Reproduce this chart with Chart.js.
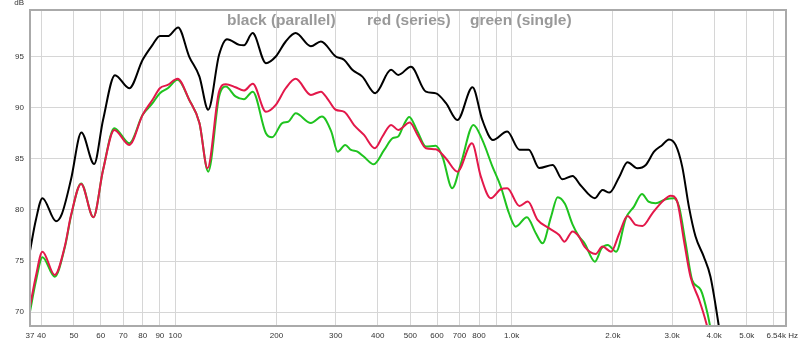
<!DOCTYPE html>
<html>
<head>
<meta charset="utf-8">
<script src="https://cdn.jsdelivr.net/npm/chart.js@4.4.1/dist/chart.umd.min.js"></script>
<style>
  body { margin: 0; background: #ffffff; }
  canvas { display: block; }
</style>
</head>
<body>
<canvas id="fr-chart" width="800" height="342"></canvas>
<script>
// axis ticks (last label is drawn by the plugin, it sits left of its tick)
const xTicks = [37, 40, 50, 60, 70, 80, 90, 100, 200, 300, 400, 500, 600, 700, 800, 900,
  1000, 2000, 3000, 4000, 5000, 6000, 6540];
const xTickLabels = ["37", "40", "50", "60", "70", "80", "90", "100", "200", "300", "400", "500",
  "600", "700", "800", "", "1.0k", "2.0k", "3.0k", "4.0k", "5.0k", "", ""];
const xEndLabel = "6.54k Hz";
const yTicks = [70, 75, 80, 85, 90, 95];

// black (parallel)
const blackFreq = [37, 38.5, 40.3, 44.2, 46, 49, 52.6, 57.4, 61, 66.2, 73, 80, 85.6, 90, 95, 102,
  110, 118, 125.3, 135, 142.5, 155, 160, 169.8, 186, 199, 213, 228, 253, 271, 300, 318, 336,
  360, 393, 438, 460, 502, 556, 596, 638, 690, 765, 818, 880, 970, 1055, 1124, 1208, 1325,
  1415, 1517, 1600, 1768, 1862, 1953, 2090, 2210, 2366, 2505, 2650, 2805, 2935, 3072, 3214,
  3364, 3521, 3725, 3900, 4250];
const blackDb = [76.0, 79.0, 81.15, 78.9, 79.6, 83.0, 87.57, 84.5, 88.8, 93.18, 91.9, 94.68, 96.14,
  97.02, 97.0, 97.84, 95.0, 93.04, 89.8, 95.17, 96.7, 96.14, 96.1, 97.29, 94.35, 95.0, 96.47,
  97.29, 96.0, 96.47, 95.0, 94.67, 93.7, 93.04, 91.42, 93.7, 93.2, 94.0, 91.57, 91.4, 90.44,
  88.8, 92.0, 88.8, 86.85, 87.67, 85.9, 85.9, 84.1, 84.4, 83.0, 83.33, 82.45, 81.15, 81.96,
  81.7, 83.26, 84.67, 84.08, 84.4, 85.7, 86.36, 86.9, 86.36, 84.24, 80.33, 77.4, 75.44, 73.48,
  66.0];

// red (series)
const redFreq = [37, 38.5, 40.3, 43.8, 47, 49, 52.5, 57.1, 61, 65.9, 73, 80, 85.6, 90, 95, 101.6,
  110, 118, 124.7, 135, 141.4, 151, 160, 170, 186, 199, 213, 228, 253, 271, 285, 300, 318, 340,
  364, 392, 413, 438, 460, 498, 525, 556, 595, 637, 690, 762, 810, 867, 928, 970, 1055, 1117,
  1194, 1294, 1384, 1435, 1517, 1586, 1647, 1777, 1862, 1975, 2090, 2210, 2338, 2450, 2620,
  2805, 2970, 3105, 3250, 3402, 3610, 3780, 3950];
const redDb = [70.55, 73.5, 75.93, 73.65, 76.5, 79.5, 82.55, 79.29, 83.9, 87.83, 86.36, 89.3, 90.77,
  91.9, 92.23, 92.82, 90.77, 88.5, 84.08, 91.57, 92.3, 92.0, 91.67, 92.33, 89.6, 90.28, 91.9,
  92.82, 91.25, 91.57, 90.77, 89.8, 89.6, 88.3, 87.34, 86.04, 87.18, 88.32, 87.83, 88.55, 87.34,
  86.04, 85.94, 85.06, 83.75, 86.53, 83.26, 81.15, 82.03, 82.13, 80.4, 80.82, 79.03, 78.2,
  77.56, 76.9, 77.9, 77.4, 76.42, 75.7, 76.42, 75.93, 77.73, 79.42, 78.54, 78.44, 79.68, 80.82,
  81.4, 80.82, 77.07, 73.48, 71.2, 69.08, 66.5];

// green (single)
const greenFreq = [37, 38.5, 40.3, 43.8, 47, 49, 52.5, 57.1, 61, 65.9, 73, 80, 85.6, 90, 95, 101.6,
  110, 118, 125.3, 135, 141.4, 151, 160, 170, 186, 194, 208, 217, 228, 253, 273, 291, 304, 320,
  333, 348, 364, 389, 418, 443, 460, 478, 496, 525, 556, 595, 623, 666, 707, 770, 818, 877, 928,
  982, 1028, 1110, 1180, 1235, 1310, 1370, 1440, 1517, 1586, 1647, 1768, 1852, 1930, 2045, 2185,
  2310, 2440, 2552, 2680, 2870, 3037, 3145, 3290, 3440, 3650, 3820, 4000];
const greenDb = [70.06, 73.0, 75.38, 73.48, 76.4, 79.4, 82.6, 79.3, 83.9, 88.0, 86.53, 89.3, 90.44,
  91.42, 91.9, 92.72, 90.77, 88.5, 83.75, 91.1, 92.06, 91.1, 90.83, 91.57, 87.5, 87.1, 88.5,
  88.64, 89.45, 88.5, 89.13, 87.67, 85.7, 86.36, 85.87, 85.7, 85.2, 84.47, 85.87, 87.02, 87.18,
  88.32, 89.1, 87.67, 86.2, 86.27, 85.2, 82.13, 84.57, 88.32, 86.85, 84.24, 82.3, 79.68, 78.37,
  79.29, 77.73, 76.75, 79.35, 81.25, 80.6, 78.6, 77.4, 76.75, 74.95, 76.26, 76.58, 75.93, 79.19,
  80.33, 81.57, 80.82, 80.66, 81.05, 81.15, 80.33, 76.75, 73.16, 72.18, 69.9, 66.5];

const toPoints = (freq, db) => freq.map((f, i) => ({ x: f, y: db[i] }));

const fontFamily = "'Liberation Sans', Arial, sans-serif";

// frame, header text, dB unit and end label
const decorPlugin = {
  id: "decor",
  afterDraw(chart) {
    const ctx = chart.ctx;
    const area = chart.chartArea;
    ctx.save();
    ctx.strokeStyle = "#aaaaaa";
    ctx.lineWidth = 2;
    ctx.strokeRect(area.left, area.top, area.right - area.left, area.bottom - area.top);

    ctx.fillStyle = "#999999";
    ctx.font = "bold 15.5px " + fontFamily;
    ctx.textBaseline = "alphabetic";
    ctx.textAlign = "left";
    ctx.fillText("black (parallel)", 227, 25);
    ctx.fillText("red (series)", 367, 25);
    ctx.fillText("green (single)", 470, 25);

    ctx.fillStyle = "#333333";
    ctx.font = "8px " + fontFamily;
    ctx.textAlign = "right";
    ctx.textBaseline = "middle";
    ctx.fillText("dB", 24, 3);
    ctx.fillText(xEndLabel, 798, area.bottom + 10);
    ctx.restore();
  },
};

const tickFont = { family: fontFamily, size: 8 };

const ctx = document.getElementById("fr-chart").getContext("2d");
const lineStyle = { borderWidth: 2, pointRadius: 0, cubicInterpolationMode: "monotone", fill: false };
const frChart = new Chart(ctx, {
  type: "line",
  data: {
    datasets: [
      { label: "red (series)", data: toPoints(redFreq, redDb), borderColor: "#e3184a", ...lineStyle },
      { label: "green (single)", data: toPoints(greenFreq, greenDb), borderColor: "#1fc31f", ...lineStyle },
      { label: "black (parallel)", data: toPoints(blackFreq, blackDb), borderColor: "#000000", ...lineStyle },
    ],
  },
  options: {
    responsive: false,
    animation: false,
    layout: { padding: { top: 10, right: 14, left: 0, bottom: 0 } },
    plugins: {
      legend: { display: false },
      tooltip: { enabled: false },
    },
    scales: {
      x: {
        type: "logarithmic",
        min: 37,
        max: 6540,
        afterBuildTicks: (axis) => {
          axis.ticks = xTicks.map((v) => ({ value: v }));
        },
        afterFit: (axis) => {
          axis.height = 16;
          axis.paddingLeft = 0;
          axis.paddingRight = 0;
        },
        ticks: {
          autoSkip: false,
          maxRotation: 0,
          padding: 5,
          color: "#333333",
          font: tickFont,
          callback: (value) => {
            const i = xTicks.indexOf(value);
            return i >= 0 ? xTickLabels[i] : "";
          },
        },
        grid: { color: "#d6d6d6", lineWidth: 1, drawTicks: false },
        border: { display: false },
      },
      y: {
        min: 68.66,
        max: 99.55,
        afterBuildTicks: (axis) => {
          axis.ticks = yTicks.map((v) => ({ value: v }));
        },
        afterFit: (axis) => {
          axis.width = 30;
          axis.paddingTop = 0;
          axis.paddingBottom = 0;
        },
        ticks: {
          padding: 6,
          color: "#333333",
          font: tickFont,
        },
        grid: { color: "#d6d6d6", lineWidth: 1, drawTicks: false },
        border: { display: false },
      },
    },
  },
  plugins: [decorPlugin],
});
</script>
</body>
</html>
